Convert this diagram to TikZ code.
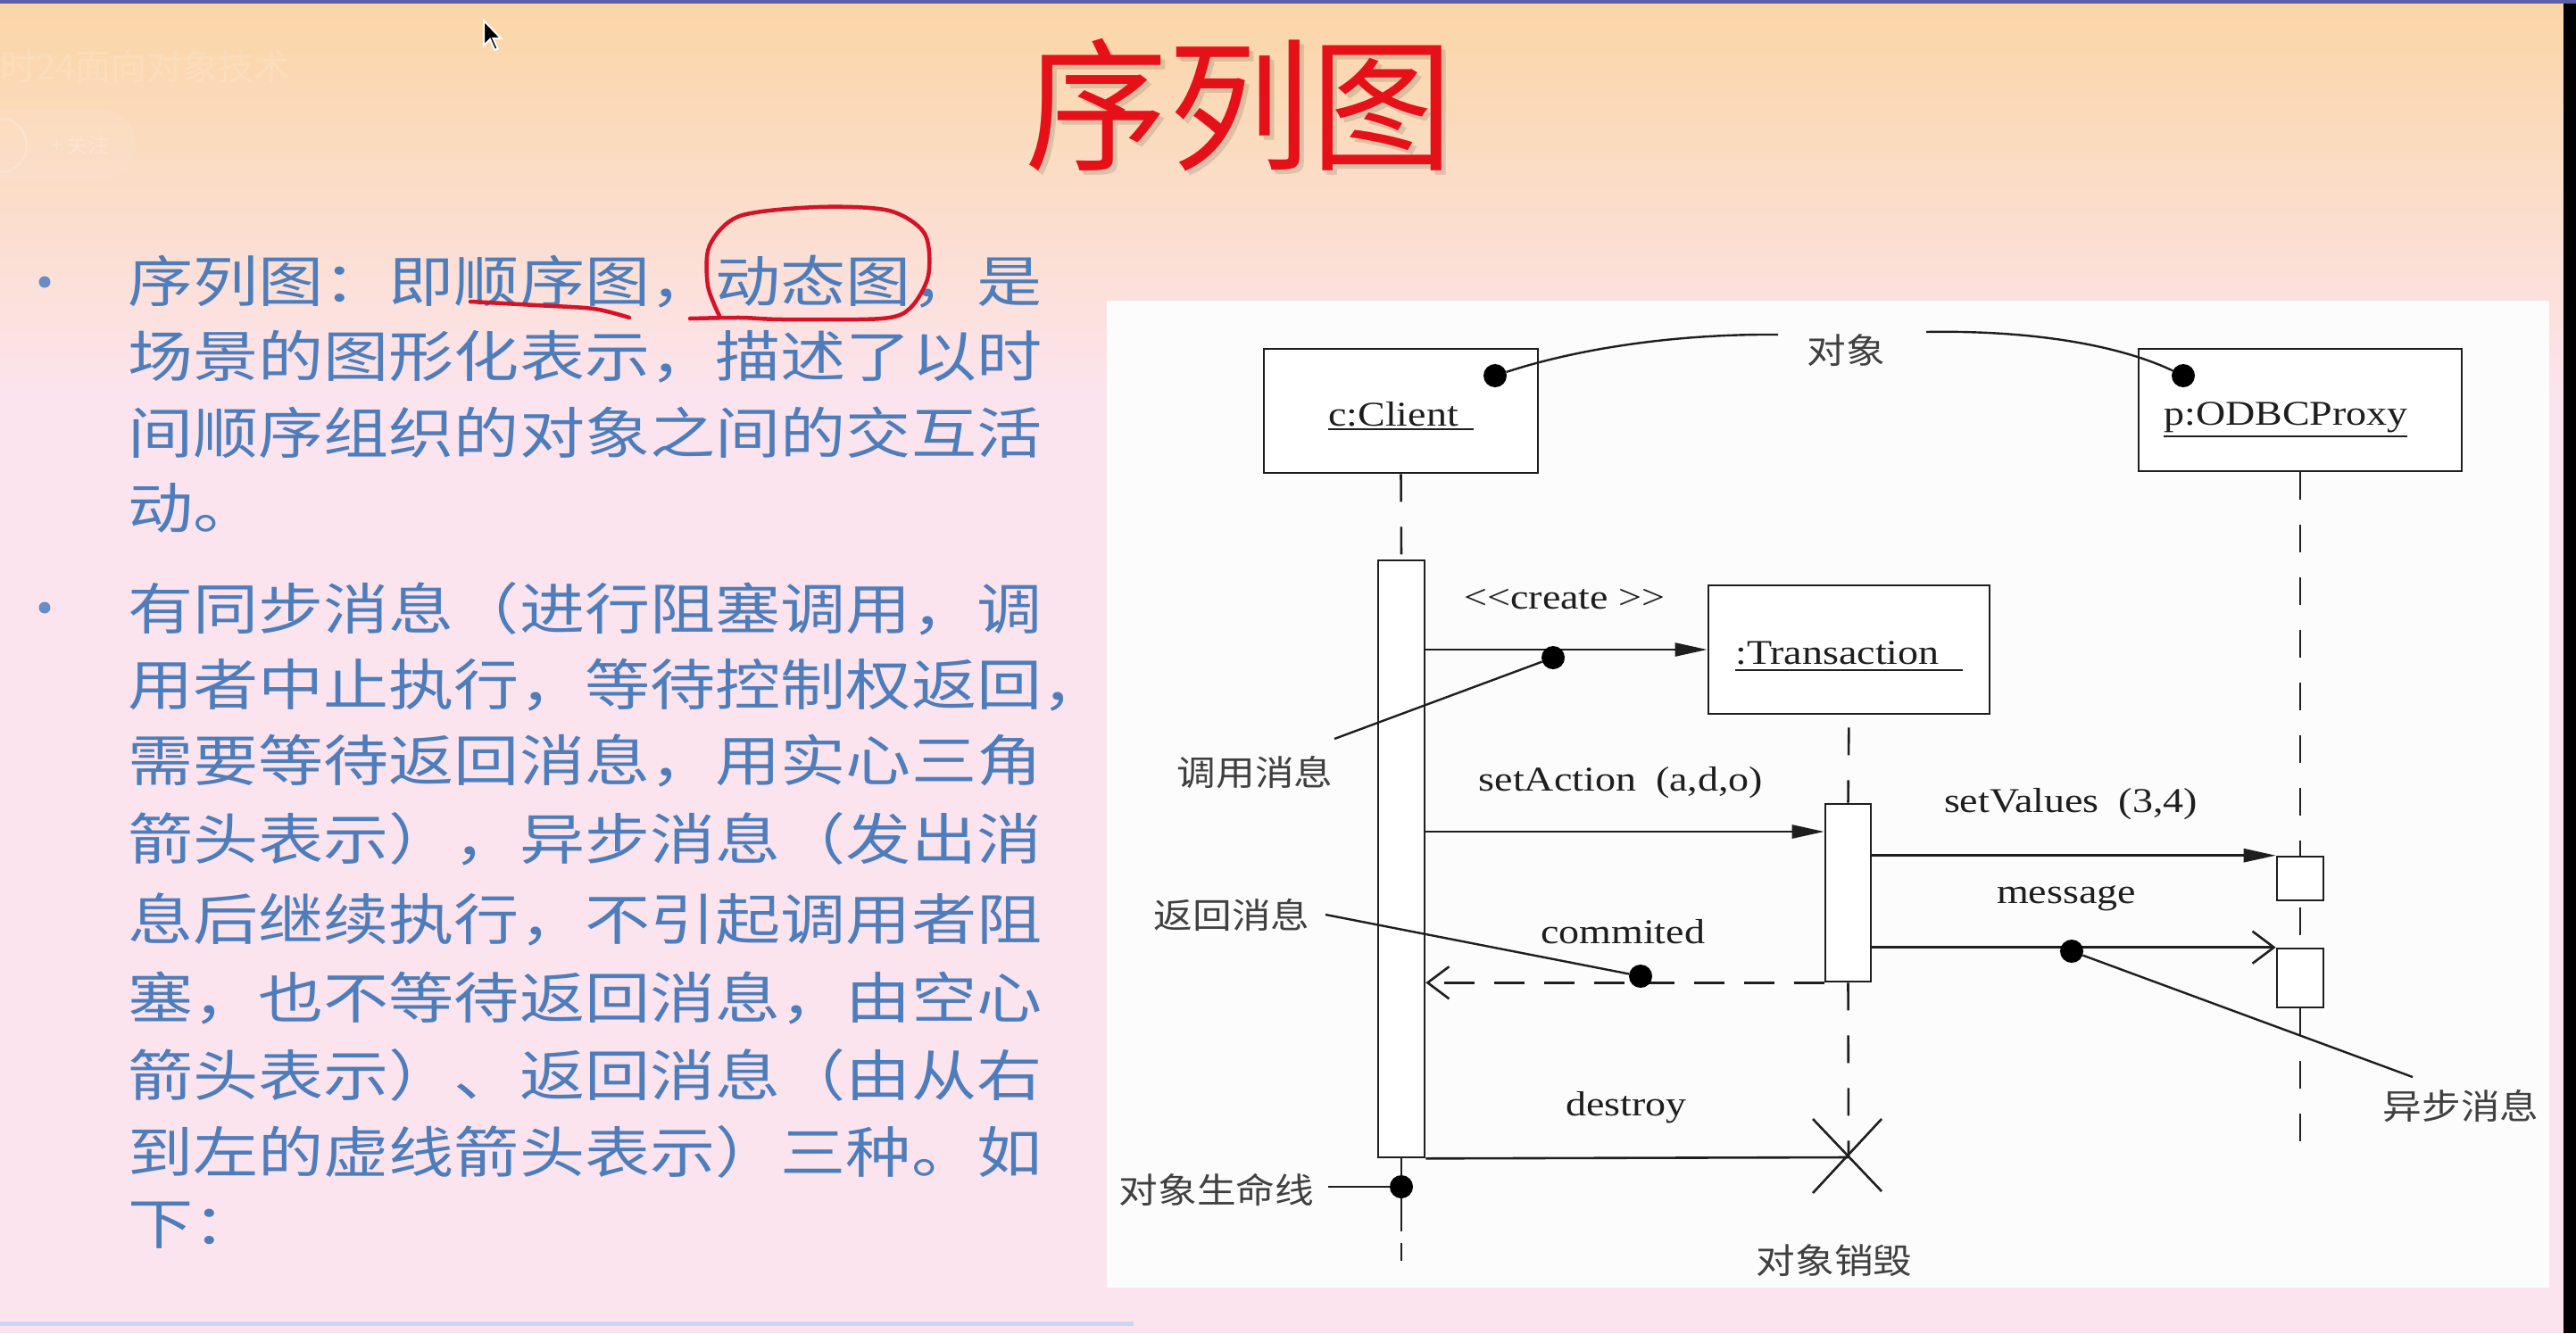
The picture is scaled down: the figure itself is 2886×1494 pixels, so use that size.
\documentclass[tikz,border=0pt]{standalone}
\usepackage{fontspec}
\usetikzlibrary{arrows.meta,calc}
\newfontfamily\cjk{Noto Sans CJK SC}
\newfontfamily\cjkbody[FakeStretch=1.18]{Noto Sans CJK SC}
\newfontfamily\cjklabel[FakeStretch=1.12]{Noto Sans CJK SC}
\newfontfamily\umlfont[FakeStretch=1.18]{Liberation Serif}

\definecolor{slidetop}{RGB}{251,214,166}
\definecolor{slidepink}{RGB}{252,228,238}
\definecolor{bodyblue}{RGB}{78,125,188}
\definecolor{bulletblue}{RGB}{104,140,196}
\definecolor{penred}{RGB}{212,18,40}
\definecolor{titlered}{RGB}{230,16,24}
\definecolor{barblue}{RGB}{92,94,170}
\definecolor{rulerblue}{RGB}{204,214,240}
\definecolor{ink}{RGB}{30,30,30}
\definecolor{panel}{RGB}{253,252,253}

\tikzset{
  body/.style={anchor=west, inner sep=0pt, text=bodyblue,
    font=\cjkbody\fontsize{62}{62}\selectfont},
  bulletdot/.style={circle, fill=bulletblue, inner sep=0pt, minimum size=13pt},
  pen/.style={draw=penred, line width=4.5pt, line cap=round, line join=round},
  objbox/.style={draw=ink, line width=2.8pt, fill=white, inner sep=0pt},
  actbox/.style={draw=ink, line width=2.6pt, fill=white, inner sep=0pt},
  life/.style={draw=ink, line width=2.6pt, dash pattern=on 31pt off 28pt},
  msg/.style={draw=ink, line width=2.6pt},
  sync/.style={msg, -{Triangle[length=36pt,width=15pt]}},
  async/.style={msg, -{Straight Barb[length=24pt,width=36pt,line width=2.6pt]}},
  ret/.style={msg, dash pattern=on 34pt off 22pt,
    -{Straight Barb[length=24pt,width=36pt,line width=2.6pt]}},
  callout/.style={draw=ink, line width=2.4pt},
  dot/.style={circle, fill=black, inner sep=0pt, minimum size=26pt},
  umltext/.style={inner sep=0pt, text=ink, font=\umlfont\fontsize{39}{39}\selectfont},
  cjktext/.style={inner sep=0pt, text=ink!85, font=\cjklabel\fontsize{39}{39}\selectfont},
  uline/.style={draw=ink, line width=2.4pt}
}

\begin{document}
\begin{tikzpicture}[x=1pt,y=-1pt]
\useasboundingbox (0,0) rectangle (2886,1494);

% slide background: peach at the top fading into pink
\fill[slidepink] (0,0) rectangle (2886,1494);
\foreach \i in {0,...,44}{
  \pgfmathsetmacro\p{100*\i/44}
  \fill[slidepink!\p!slidetop] (0,\i*10) rectangle (2886,\i*10+10.5);
}
\fill[black] (2872,0) rectangle (2886,1494);
\fill[barblue] (0,0) rectangle (2886,3.5);
\fill[rulerblue] (0,1481) rectangle (1270,1486);

% faint player overlay
\node[anchor=east, inner sep=0pt, text=white, opacity=0.14,
      font=\cjk\fontsize{40}{40}\selectfont] (channel) at (325,74) {时24面向对象技术};
\fill[white, opacity=0.08, rounded corners=40pt] (-40,122) rectangle (152,202);
\draw[white, opacity=0.18, line width=3pt] (0,163) circle (30pt);
\node[inner sep=0pt, text=white, opacity=0.2,
      font=\cjk\fontsize{24}{24}\selectfont] (follow) at (90,162) {+\,关注};

% pointer
\filldraw[fill=black, draw=white, line width=2pt, line join=miter]
  (542,23) -- ++(0,28) -- ++(7,-7) -- ++(5.25,12) -- ++(3.5,-1.5)
  -- ++(-5.25,-11.5) -- ++(8.75,0) -- cycle;

% title
\node[inner sep=0pt, text=black, opacity=0.12,
      font=\cjk\fontsize{160}{160}\selectfont] (titleshadow) at (1393,123) {序列图};
\node[inner sep=0pt, text=titlered,
      font=\cjk\fontsize{160}{160}\selectfont] (title) at (1388,118) {序列图};

% bullet text
\node[bulletdot] (b1) at (50,316) {};
\node[bulletdot] (b2) at (50,681) {};
\node[body] (l1)  at (143,316)  {序列图：即顺序图，动态图，是};
\node[body] (l2)  at (143,400)  {场景的图形化表示，描述了以时};
\node[body] (l3)  at (143,485)  {间顺序组织的对象之间的交互活};
\node[body] (l4)  at (143,569)  {动。};
\node[body] (l5)  at (143,682)  {有同步消息（进行阻塞调用，调};
\node[body] (l6)  at (143,768)  {用者中止执行，等待控制权返回，};
\node[body] (l7)  at (143,852)  {需要等待返回消息，用实心三角};
\node[body] (l8)  at (143,940)  {箭头表示），异步消息（发出消};
\node[body] (l9)  at (143,1030) {息后继续执行，不引起调用者阻};
\node[body] (l10) at (143,1118) {塞，也不等待返回消息，由空心};
\node[body] (l11) at (143,1205) {箭头表示）、返回消息（由从右};
\node[body] (l12) at (143,1291) {到左的虚线箭头表示）三种。如};
\node[body] (l13) at (143,1373) {下：};

% hand-drawn marks
\draw[pen] plot[smooth] coordinates {(527,338) (600,342) (665,346) (705,356)};
\draw[pen] plot[smooth] coordinates {(773,357) (830,356) (877,358) (988,357)
  (1020,345) (1040,309) (1036,262) (996,236) (917,232) (829,242) (795,275)
  (793,320) (806,354)};

% diagram panel
\fill[panel] (1240,337) rectangle (2856,1443);

% lifeline ends and label anchors
\coordinate (xmark) at (2071,1297);
\coordinate (proxyend) at (2577,1296);
\coordinate (clientend) at (1570,1413);
\coordinate (ySetAction) at (0,932);
\coordinate (objL) at (1992,375);
\coordinate (objR) at (2158,372);
\coordinate (callEnd) at (1495,828);
\coordinate (retStart) at (1485,1025);
\coordinate (asyncEnd) at (2703,1207);
\coordinate (lifeStart) at (1488,1330);

% objects
\node[objbox, minimum width=307pt, minimum height=139pt] (client) at (1569.5,460.5) {};
\node[objbox, minimum width=362pt, minimum height=137pt] (proxy) at (2577,459.5) {};
\node[objbox, minimum width=315pt, minimum height=144pt] (trans) at (2071.5,728) {};

% activation bars (placed first so lifelines can reference them)
\node[actbox, minimum width=52pt, minimum height=669pt] (cact) at (1570,962.5) {};
\node[actbox, minimum width=51pt, minimum height=199pt] (tact) at (2070.5,1000.5) {};
\node[actbox, minimum width=52pt, minimum height=49pt] (pact1) at (2577,984.5) {};
\node[actbox, minimum width=52pt, minimum height=66pt] (pact2) at (2577,1096) {};

% lifelines
\draw[life] (client.south) -- (cact.north);
\draw[life, dash phase=45pt] (trans.south) -- (tact.north);
\draw[life] (tact.south) -- (xmark);
\draw[life] (proxy.south) -- (pact1.north);
\draw[life, dash phase=52pt] (pact1.south) -- (pact2.north);
\draw[life] (pact2.south) -- (proxyend);

% activation bars drawn over the lifelines
\node[actbox, minimum width=52pt, minimum height=669pt] at (cact) {};
\node[actbox, minimum width=51pt, minimum height=199pt] at (tact) {};
\node[actbox, minimum width=52pt, minimum height=49pt] at (pact1) {};
\node[actbox, minimum width=52pt, minimum height=66pt] at (pact2) {};

% messages
\draw[sync] (cact.east |- trans.west) -- (trans.west);
\draw[sync] (cact.east |- ySetAction) -- (tact.west |- ySetAction);
\draw[sync] (tact.east |- pact1.north west) -- (pact1.north west);
\draw[async] (tact.east |- pact2.north west) -- (pact2.north west);
\draw[ret] (tact.south west) -- (cact.east |- tact.south west);
\draw[msg] (cact.south east) -- (xmark);
\draw[msg] (xmark) ++(-40,-43) -- ++(77,81);
\draw[msg] (xmark) ++(37,-43) -- ++(-77,83);

% message labels
\node[umltext, anchor=base] (lcreate) at (1753,682) {<\kern0pt<create >\kern0pt>};
\node[umltext, anchor=base] (lsetaction) at (1816,886) {setAction\hspace{22pt}(a,d,o)};
\node[umltext, anchor=base] (lsetvalues) at (2320,910) {setValues\hspace{22pt}(3,4)};
\node[umltext, anchor=base] (lmessage) at (2315,1012) {message};
\node[umltext, anchor=base] (lcommited) at (1818,1057) {commited};
\node[umltext, anchor=base] (ldestroy) at (1822,1250) {destroy};

% object names
\node[umltext, anchor=base west] (clientlbl) at (1488,477) {c:Client};
\draw[uline] ($(clientlbl.base west)+(0,4)$) -- ++(163,0);
\node[umltext, anchor=base west] (proxylbl) at (2424,476) {p:ODBCProxy};
\draw[uline] ($(proxylbl.base west)+(0,13)$) -- ++(273,0);
\node[umltext, anchor=base west] (translbl) at (1944,744) {:Transaction};
\draw[uline] ($(translbl.base west)+(0,7)$) -- ++(255,0);

% callout dots
\node[dot] (d1) at (1675,421) {};
\node[dot] (d6) at (2446,421) {};
\node[dot] (d2) at (1740,737) {};
\node[dot] (d3) at (1838,1094) {};
\node[dot] (d4) at (2321,1066) {};
\node[dot] (d5) at (1570,1330) {};

% client lifeline below its activation
\draw[msg] (cact.south) -- (d5);
\draw[msg, dash pattern=on 37pt off 13pt on 40pt off 10pt] (d5) -- (clientend);

% callout leaders
\draw[callout] (d1) .. controls (1770,390) and (1880,374) .. (objL);
\draw[callout] (objR) .. controls (2270,370) and (2370,385) .. (d6);
\draw[callout] (d2) -- (callEnd);
\draw[callout] (retStart) -- (d3);
\draw[callout] (d4) -- (asyncEnd);
\draw[callout] (lifeStart) -- (d5);

% callout texts
\node[cjktext] (objlbl) at (2068,393) {对象};
\node[cjktext] (calllbl) at (1406,866) {调用消息};
\node[cjktext] (retlbl) at (1380,1025) {返回消息};
\node[cjktext] (asynclbl) at (2757,1240) {异步消息};
\node[cjktext] (lifelbl) at (1363,1333) {对象生命线};
\node[cjktext] (destroylbl) at (2055,1413) {对象销毁};
\end{tikzpicture}
\end{document}
